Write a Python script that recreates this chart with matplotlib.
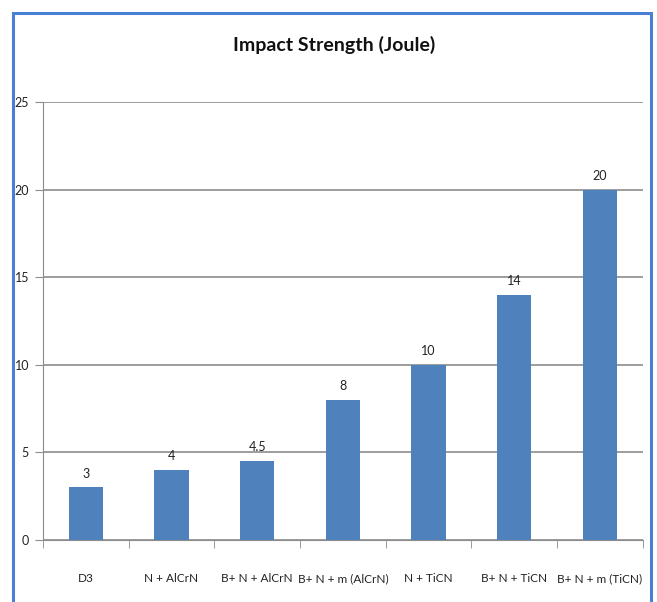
import matplotlib.pyplot as plt
from matplotlib.patches import Rectangle

categories = ['D3', 'N + AlCrN', 'B+ N + AlCrN', 'B+ N + m (AlCrN)',
              'N + TiCN', 'B+ N + TiCN', 'B+ N + m (TiCN)']
impact = [3, 4, 4.5, 8, 10, 14, 20]
yticks = [0, 5, 10, 15, 20, 25]

plt.rcParams['font.family'] = ['Lato', 'DejaVu Sans']

fig = plt.figure(figsize=(6.57, 6.02), dpi=100)
ax = fig.add_axes([0.0654, 0.103, 0.913, 0.7276])

x = list(range(len(categories)))
bars = ax.bar(x, impact, width=0.4, color='#4F81BD', zorder=3)
for b, v in zip(bars, impact):
    ax.text(b.get_x() + b.get_width() / 2, v + 0.45, f'{v:g}',
            ha='center', va='bottom', fontsize=9, color='#222222')

ax.set_xlim(-0.5, len(categories) - 0.5)
ax.set_ylim(0, 25)
ax.set_yticks(yticks)
ax.set_yticklabels([str(t) for t in yticks], fontsize=9, color='#222222')
ax.yaxis.grid(True, color='#8c8c8c', linewidth=1.2, zorder=0)
ax.tick_params(axis='y', length=6, color='#8c8c8c', pad=4)

ax.set_xticks(x)
ax.set_xticklabels(categories, fontsize=8.5, color='#222222')
ax.set_xticks([i + 0.5 for i in range(-1, len(categories))], minor=True)
ax.tick_params(axis='x', which='major', length=0, pad=24)
ax.tick_params(axis='x', which='minor', length=6, color='#8c8c8c')

for side in ['top', 'right']:
    ax.spines[side].set_visible(False)
ax.spines['left'].set_color('#8c8c8c')
ax.spines['bottom'].set_color('#8c8c8c')

fig.text(0.508, 0.925, 'Impact Strength (Joule)', ha='center', va='center',
         fontsize=14, fontweight='bold', color='#111111')

# outer chart frame
fig.patches.append(Rectangle((13 / 657, -0.01), 638 / 657, 1 - 13 / 602 + 0.01,
                             transform=fig.transFigure, fill=False,
                             edgecolor='#4A7FD6', linewidth=2.2))

fig.savefig('out.png', dpi=100)
